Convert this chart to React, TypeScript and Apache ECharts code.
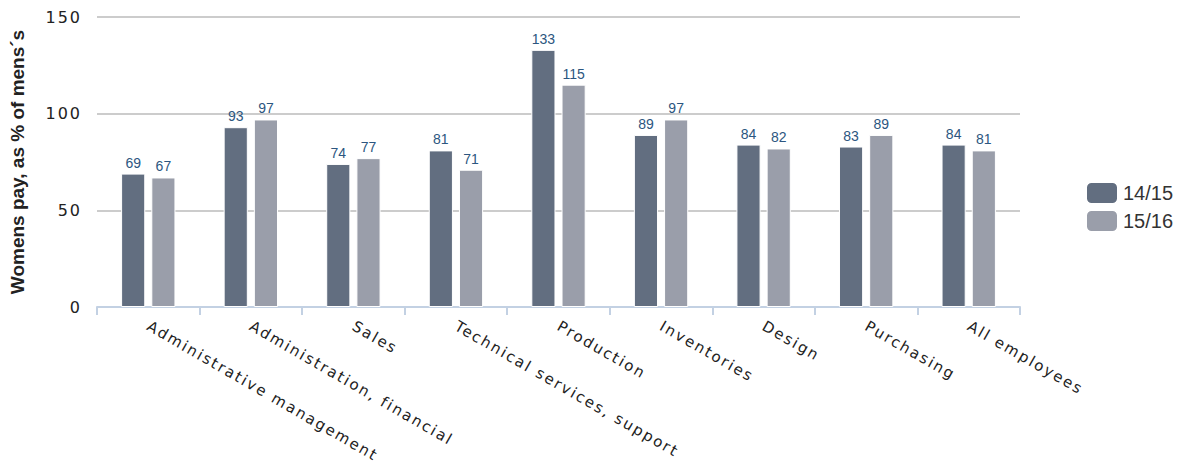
import React, { useEffect, useRef } from "react";
import * as echarts from "echarts";

const categories = [
  "Administrative management",
  "Administration, financial",
  "Sales",
  "Technical services, support",
  "Production",
  "Inventories",
  "Design",
  "Purchasing",
  "All employees",
];
const series1415 = [69, 93, 74, 81, 133, 89, 84, 83, 84];
const series1516 = [67, 97, 77, 71, 115, 97, 82, 89, 81];
const seriesNames = ["14/15", "15/16"];
const yTicks = { min: 0, max: 150, interval: 50 };

const css = `
#chart-root text[style*="DejaVu"], #chart-root text[font-family*="DejaVu"] { letter-spacing: 2px; }
`;

export default function App() {
  const ref = useRef<HTMLDivElement>(null);
  useEffect(() => {
    if (!ref.current) return;
    const chart = echarts.init(ref.current, undefined, { renderer: "svg" });
    const labelStyle = {
      show: true,
      position: "top",
      distance: 4,
      color: "#2c5680",
      fontFamily: "Liberation Sans, Arial, sans-serif",
      fontSize: 14,
    };
    chart.setOption({
      animation: false,
      grid: { left: 97, right: 170, top: 17, bottom: 169, containLabel: false },
      legend: {
        orient: "vertical",
        left: 1085,
        top: 181,
        padding: 0,
        itemWidth: 32,
        itemHeight: 22,
        itemGap: 4,
        icon: "roundRect",
        textStyle: { fontSize: 20, color: "#333", fontFamily: "Liberation Sans, Arial, sans-serif" },
        data: seriesNames,
      },
      xAxis: {
        type: "category",
        data: categories,
        axisLine: { lineStyle: { color: "#c3d1e3", width: 2 } },
        axisTick: { show: true, length: 8, lineStyle: { color: "#c3d1e3", width: 2 } },
        axisLabel: {
          rotate: -30,
          interval: 0,
          margin: 18,
          fontSize: 15,
          color: "#222",
          fontFamily: "DejaVu Sans, sans-serif",
        },
      },
      yAxis: {
        type: "value",
        min: yTicks.min,
        max: yTicks.max,
        interval: yTicks.interval,
        name: "Womens pay, as % of mens´s",
        nameLocation: "middle",
        nameGap: 70,
        nameTextStyle: {
          fontSize: 19,
          fontWeight: "bold",
          color: "#222",
          fontFamily: "Liberation Sans, Arial, sans-serif",
        },
        axisLine: { show: false },
        axisTick: { show: false },
        splitLine: { lineStyle: { color: "#cccccc", width: 2 } },
        axisLabel: {
          margin: 15,
          fontSize: 16,
          color: "#222",
          fontFamily: "DejaVu Sans, sans-serif",
        },
      },
      series: [
        {
          name: seriesNames[0],
          type: "bar",
          data: series1415,
          barGap: "25%",
          barCategoryGap: "47%",
          itemStyle: { color: "#626e80", borderColor: "#fff", borderWidth: 1 },
          label: labelStyle,
        },
        {
          name: seriesNames[1],
          type: "bar",
          data: series1516,
          itemStyle: { color: "#9a9eaa", borderColor: "#fff", borderWidth: 1 },
          label: labelStyle,
        },
      ],
    });
    return () => chart.dispose();
  }, []);
  return (
    <>
      <style>{css}</style>
      <div id="chart-root" ref={ref} style={{ width: 1190, height: 476, position: "absolute", left: 0, top: 0 }} />
    </>
  );
}
